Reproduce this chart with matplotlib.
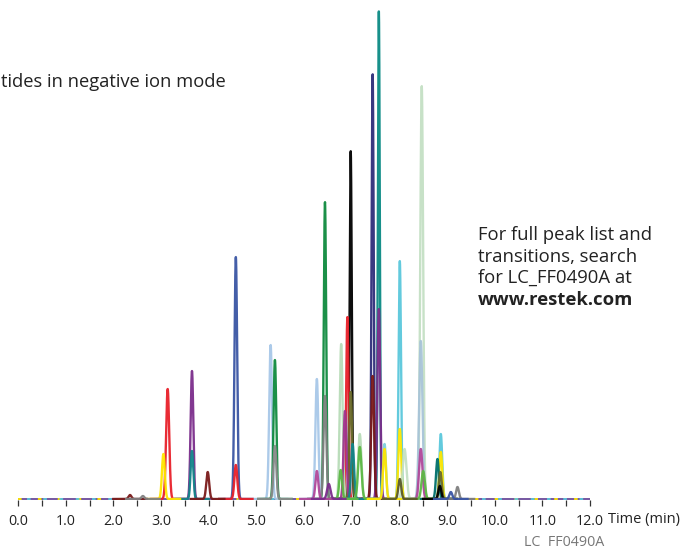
import numpy as np
import matplotlib.pyplot as plt

# peak list: retention time (min), height (arbitrary), colour
rt = [2.35, 2.62, 3.05, 3.14, 3.65, 3.65, 3.98, 4.57, 4.57, 5.30, 5.39, 5.39,
      6.27, 6.27, 6.44, 6.44, 6.52, 6.78, 6.77, 6.86, 6.91, 6.98, 6.98, 7.02,
      7.17, 7.17, 7.44, 7.44, 7.57, 7.57, 7.69, 7.69, 8.01, 8.01, 8.01, 8.11,
      8.47, 8.45, 8.45, 8.50, 8.80, 8.87, 8.87, 8.86, 8.85, 9.08, 9.22]
height = [4, 3, 45, 110, 128, 48, 27, 242, 34, 154, 139, 53,
          120, 28, 297, 103, 15, 155, 29, 88, 182, 348, 107, 55,
          65, 52, 425, 123, 488, 190, 55, 50, 238, 70, 20, 50,
          413, 158, 50, 28, 40, 65, 47, 27, 13, 7, 12]
colors = ['#7a1a1a', '#808080', '#ffe600', '#e8202a', '#7b2d8b', '#12858a',
          '#7a1a1a', '#3a55a4', '#e8202a', '#a8c8e8', '#0e8a3e', '#8a8a8a',
          '#a8c8e8', '#b0479a', '#0e8a3e', '#808080', '#7b2d8b', '#b8dcb8',
          '#5cb845', '#a0358f', '#e8202a', '#000000', '#6b6b2a', '#12858a',
          '#b8dcb8', '#5cb845', '#2e2d7a', '#7a1a1a', '#0a8a84', '#7b2d8b',
          '#7fd0dc', '#ffe600', '#5bc8dc', '#ffe600', '#5a5a2a', '#c4e0c4',
          '#c4e0c4', '#a8c4d8', '#b0479a', '#5cb845', '#00706a', '#5bc8dc',
          '#ffe600', '#6b6b2a', '#000000', '#3a55a4', '#808080']
sigma = [0.03, 0.03, 0.03, 0.032, 0.028, 0.028, 0.03, 0.028, 0.03, 0.03, 0.028, 0.03,
         0.03, 0.03, 0.025, 0.03, 0.035, 0.03, 0.03, 0.03, 0.025, 0.022, 0.03, 0.03,
         0.035, 0.035, 0.022, 0.03, 0.02, 0.03, 0.03, 0.03, 0.025, 0.03, 0.03, 0.04,
         0.03, 0.035, 0.035, 0.035, 0.03, 0.03, 0.03, 0.03, 0.03, 0.03, 0.03]

fig = plt.figure(figsize=(6.83, 5.53), dpi=100)
ax = fig.add_axes([18 / 683, 1 - 500 / 553, (590 - 18) / 683, 500 / 553])

# multicoloured noisy-looking baseline
ax.plot([0, 12], [0, 0], color='#6a4a9a', lw=1.3, zorder=1)
ax.plot([0, 12], [0, 0], color='#ffe600', lw=1.3, linestyle=(0, (2, 9)), zorder=1)
ax.plot([0, 12], [0, 0], color='#5bc8dc', lw=1.3, linestyle=(4, (2, 7)), zorder=1)

order = np.argsort(height)[::-1]
for i in order:
    t = np.linspace(rt[i] - 0.35, rt[i] + 0.35, 400)
    y = height[i] * np.exp(-0.5 * ((t - rt[i]) / sigma[i]) ** 2)
    ax.plot(t, y, color=colors[i], lw=1.7, alpha=0.95, solid_joinstyle='round', zorder=2)

ax.set_xlim(0, 12)
ax.set_ylim(-1, 499)
for s in ['left', 'right', 'top', 'bottom']:
    ax.spines[s].set_visible(False)
ax.set_yticks([])
ax.set_xticks(np.arange(0, 12.01, 1.0))
ax.set_xticks(np.arange(0.5, 12, 1.0), minor=True)
ax.set_xticklabels(['%.1f' % v for v in np.arange(0, 12.01, 1.0)])
ax.tick_params(axis='x', which='both', direction='out', length=4, width=0.9,
               color='#333333', labelsize=10.3, pad=6)
for lab in ax.get_xticklabels():
    lab.set_fontfamily('Open Sans')
    lab.set_color('#222222')

fig.text(608 / 683, 1 - 519 / 553, 'Time (min)', fontsize=10.5, family='Open Sans',
         color='#222222', va='center', ha='left')
fig.text(604 / 683, 1 - 543 / 553, 'LC  FF0490A', fontsize=10.3, family='Open Sans',
         color='#777777', va='center', ha='right')

fig.text(0.001, 1 - 82 / 553, 'tides in negative ion mode', fontsize=13.2,
         family='Open Sans', color='#222222', va='center', ha='left')

info_lines = ['For full peak list and', 'transitions, search', 'for LC_FF0490A at']
info_y = [235, 257, 278]
for txt, yy in zip(info_lines, info_y):
    fig.text(478 / 683, 1 - yy / 553, txt, fontsize=13.3, family='Open Sans',
             color='#222222', va='center', ha='left')
fig.text(478 / 683, 1 - 300 / 553, 'www.restek.com', fontsize=13.3, family='Open Sans',
         weight='bold', color='#222222', va='center', ha='left')

fig.savefig('out.png', dpi=100)
